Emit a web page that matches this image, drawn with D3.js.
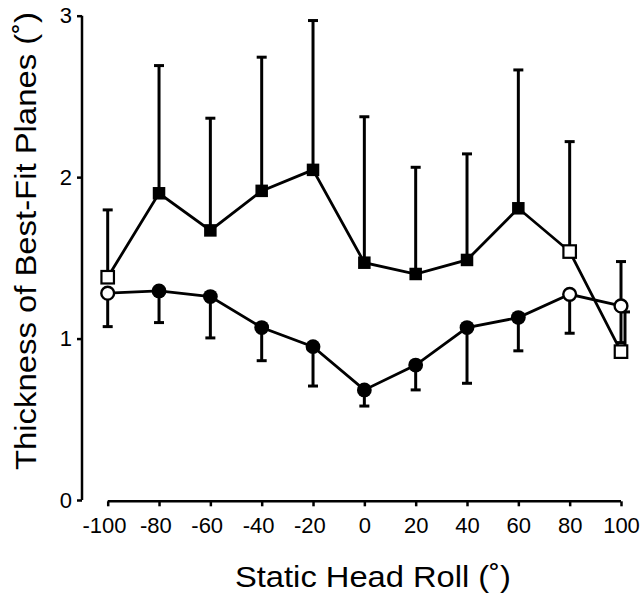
<!DOCTYPE html>
<html>
<head>
<meta charset="utf-8">
<script src="https://cdn.jsdelivr.net/npm/d3@7/dist/d3.min.js"></script>
<style>
  html, body { margin: 0; padding: 0; background: #fff; }
  svg { display: block; }
  text { font-family: "Liberation Sans", Arial, Helvetica, sans-serif; fill: #000; }
</style>
</head>
<body>
<svg id="chart" width="644" height="597"></svg>
<script>
// ---- data ----
const headRoll = [-100, -80, -60, -40, -20, 0, 20, 40, 60, 80, 100];

// square series (upper curve)
const squareMean = [1.38, 1.90, 1.67, 1.915, 2.045, 1.47, 1.40, 1.487, 1.807, 1.539, 0.919];
const squareErrTop = [1.797, 2.691, 2.365, 2.743, 2.970, 2.374, 2.061, 2.144, 2.664, 2.22, 1.165];
const squareOpen = [true, false, false, false, false, false, false, false, false, true, true];

// circle series (lower curve)
const circleMean = [1.281, 1.295, 1.260, 1.068, 0.950, 0.682, 0.836, 1.068, 1.130, 1.274, 1.202];
const circleErrLow = [1.074, 1.099, 1.004, 0.863, 0.706, 0.582, 0.682, 0.723, 0.924, 1.033, 0.975];
const circleErrHigh = [null, null, null, null, null, null, null, null, null, null, 1.477];
const circleOpen = [true, false, false, false, false, false, false, false, false, true, true];

const xTicks = [-100, -80, -60, -40, -20, 0, 20, 40, 60, 80, 100];
const xTickLabels = ["-100", "-80", "-60", "-40", "-20", "0", "20", "40", "60", "80", "100"];
const yTicks = [0, 1, 2, 3];
const yTickLabels = ["0", "1", "2", "3"];
const xLabel = "Static Head Roll (˚)";
const yLabel = "Thickness of Best-Fit Planes (˚)";

// ---- drawing ----
const svg = d3.select("#chart");
const x = d3.scaleLinear().domain([-100, 100]).range([107.7, 621]);
const y = d3.scaleLinear().domain([0, 3]).range([500, 15.7]);
const tickFont = 22;

// axes
const yAxis = d3.axisLeft(y).tickValues(yTicks).tickSize(5).tickPadding(5)
  .tickFormat((d, i) => yTickLabels[i]);
const gy = svg.append("g").attr("transform", "translate(82,0)").call(yAxis);
const xAxis = d3.axisBottom(x).tickValues(xTicks).tickSize(5).tickPadding(11)
  .tickFormat((d, i) => xTickLabels[i]);
const gx = svg.append("g").attr("transform", "translate(0,501.3)").call(xAxis);

[gy, gx].forEach(g => {
  g.select(".domain").attr("stroke", "#000").attr("stroke-width", 2.5);
  g.selectAll(".tick line").attr("stroke", "#000").attr("stroke-width", 2.5);
  g.selectAll(".tick text").attr("font-size", tickFont).attr("fill", "#000")
    .attr("font-family", '"Liberation Sans", Arial, Helvetica, sans-serif');
});
gy.select(".domain").attr("d", `M0,${y(3)}V${y(0)}`);
gx.select(".domain").attr("d", `M${x(-100)},0H${x(100)}`);
// digits centred on the tick, minus sign hanging to the left
gx.selectAll(".tick text").attr("dy", "0.71em")
  .attr("dx", d => d < 0 ? -0.333 * tickFont / 2 : 0);

// axis titles (reference lettering is slightly wide)
const tx = svg.append("text").attr("x", 373).attr("y", 587).attr("text-anchor", "middle")
  .attr("font-size", 29).text(xLabel);
tx.attr("textLength", 276).attr("lengthAdjust", "spacingAndGlyphs");
const ty = svg.append("text").attr("transform", "translate(36,241) rotate(-90)")
  .attr("text-anchor", "middle").attr("font-size", 29).text(yLabel);
ty.attr("textLength", 458).attr("lengthAdjust", "spacingAndGlyphs");

const plot = svg.append("g");

// error bars
const capW = 10;
function errBar(xv, y1v, y2v, dx) {
  const xx = x(xv) + (dx || 0);
  plot.append("line").attr("x1", xx).attr("x2", xx).attr("y1", y(y1v)).attr("y2", y(y2v))
    .attr("stroke", "#000").attr("stroke-width", 3);
  plot.append("line").attr("x1", xx - capW / 2).attr("x2", xx + capW / 2)
    .attr("y1", y(y2v)).attr("y2", y(y2v)).attr("stroke", "#000").attr("stroke-width", 3);
}
headRoll.forEach((h, i) => {
  errBar(h, squareMean[i], squareErrTop[i], i === headRoll.length - 1 ? 4 : 0);
  errBar(h, circleMean[i], circleErrLow[i]);
  if (circleErrHigh[i] != null) errBar(h, circleMean[i], circleErrHigh[i]);
});

// lines
const sqPts = headRoll.map((h, i) => [h, squareMean[i]]);
const ciPts = headRoll.map((h, i) => [h, circleMean[i]]);
const line = d3.line().x(d => x(d[0])).y(d => y(d[1]));
plot.append("path").attr("d", line(sqPts)).attr("fill", "none").attr("stroke", "#000").attr("stroke-width", 2.8);
plot.append("path").attr("d", line(ciPts)).attr("fill", "none").attr("stroke", "#000").attr("stroke-width", 2.8);

// markers
const sq = 12.5;
plot.selectAll(".sq").data(sqPts).enter().append("rect")
  .attr("x", d => x(d[0]) - sq / 2).attr("y", d => y(d[1]) - sq / 2)
  .attr("width", sq).attr("height", sq)
  .attr("fill", (d, i) => squareOpen[i] ? "#fff" : "#000")
  .attr("stroke", "#000").attr("stroke-width", (d, i) => squareOpen[i] ? 2.2 : 0);
plot.selectAll(".ci").data(ciPts).enter().append("circle")
  .attr("cx", d => x(d[0])).attr("cy", d => y(d[1]))
  .attr("r", (d, i) => circleOpen[i] ? 6.4 : 7.4)
  .attr("fill", (d, i) => circleOpen[i] ? "#fff" : "#000")
  .attr("stroke", "#000").attr("stroke-width", (d, i) => circleOpen[i] ? 2.4 : 0);
</script>
</body>
</html>
